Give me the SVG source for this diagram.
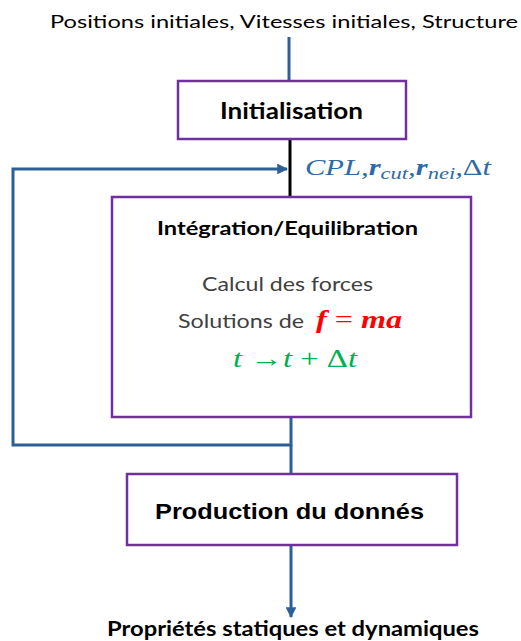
<svg xmlns="http://www.w3.org/2000/svg" width="521" height="641" viewBox="0 0 521 641">
<style>
.box{fill:#ffffff;stroke:#7030A0;stroke-width:2.5}
.wire{fill:none;stroke:#2C6096;stroke-width:3}
.sans{font-family:Lato,"Open Sans","Liberation Sans",sans-serif;fill:#000}
.math{font-family:"Liberation Serif","DejaVu Serif",serif;font-style:italic}
.up{font-style:normal}
</style>
<defs>
<marker id="ah" viewBox="0 0 10 10" refX="9" refY="5" markerWidth="3.6" markerHeight="3.6" orient="auto" markerUnits="strokeWidth">
<path d="M0,0 L10,5 L0,10 z" fill="#2C6096"/>
</marker>
</defs>
<rect width="521" height="641" fill="#ffffff"/>
<g id="connectors">
<line class="wire" x1="289" y1="37" x2="289" y2="81"/>
<line x1="290" y1="139" x2="290" y2="197" stroke="#000" stroke-width="3"/>
<polyline class="wire" points="291,417 291,445 13,445 13,169 287,169" marker-end="url(#ah)"/>
<line class="wire" x1="291" y1="445" x2="291" y2="474"/>
<line class="wire" x1="291" y1="545" x2="291" y2="617" marker-end="url(#ah)"/>
</g>
<g id="input-label">
<text class="sans" x="284" y="28" font-size="18" text-anchor="middle" textLength="468" lengthAdjust="spacingAndGlyphs">Positions initiales, Vitesses initiales, Structure</text>
</g>
<g id="initialisation">
<rect class="box" x="178" y="81" width="228" height="58"/>
<text class="sans" x="291.5" y="119" font-size="22" font-weight="bold" text-anchor="middle" textLength="143" lengthAdjust="spacingAndGlyphs">Initialisation</text>
</g>
<g id="params-label">
<text class="math" x="305" y="175" font-size="23" fill="#2E6AA8" textLength="186" lengthAdjust="spacingAndGlyphs">CPL,<tspan font-weight="bold">r</tspan><tspan font-size="17" dy="4">cut</tspan><tspan dy="-4">,</tspan><tspan font-weight="bold">r</tspan><tspan font-size="17" dy="4">nei</tspan><tspan dy="-4">,</tspan><tspan class="up">Δ</tspan>t</text>
</g>
<g id="integration">
<rect class="box" x="112" y="197" width="359" height="220"/>
<text class="sans" x="287.5" y="235" font-size="19" font-weight="bold" text-anchor="middle" textLength="261" lengthAdjust="spacingAndGlyphs">Intégration/Equilibration</text>
<text class="sans" x="287.5" y="291" font-size="20" style="fill:#404040" text-anchor="middle" textLength="171" lengthAdjust="spacingAndGlyphs">Calcul des forces</text>
<text class="sans" x="178" y="328" font-size="20" style="fill:#404040" textLength="126" lengthAdjust="spacingAndGlyphs">Solutions de</text>
<text class="math" x="316" y="328" font-size="26" font-weight="bold" fill="#FF0000" textLength="86" lengthAdjust="spacingAndGlyphs">f <tspan class="up" font-weight="normal">=</tspan> ma</text>
<text class="math" x="233" y="367" font-size="25" fill="#00B050" textLength="124" lengthAdjust="spacingAndGlyphs">t  <tspan class="up">→</tspan>t <tspan class="up">+</tspan>  <tspan class="up">Δ</tspan>t</text>
</g>
<g id="production">
<rect class="box" x="127" y="474" width="330" height="71"/>
<text x="289.5" y="519" font-family="Liberation Sans, Arial, sans-serif" font-size="22" font-weight="bold" text-anchor="middle" textLength="269" lengthAdjust="spacingAndGlyphs">Production du donnés</text>
</g>
<g id="output-label">
<text class="sans" x="293" y="636" font-size="20" font-weight="bold" text-anchor="middle" textLength="372" lengthAdjust="spacingAndGlyphs">Propriétés statiques et dynamiques</text>
</g>
</svg>
